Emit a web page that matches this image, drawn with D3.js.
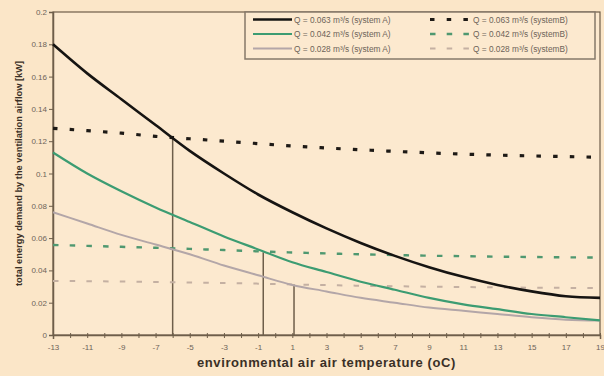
<!DOCTYPE html>
<html lang="en">
<head>
  <meta charset="UTF-8">
  <title>Ventilation energy demand</title>
  <script src="https://cdn.jsdelivr.net/npm/d3@7"></script>
  <style>
    html, body {
      margin: 0;
      padding: 0;
      background: #fbe6c8;
    }
    svg text {
      font-family: "Liberation Sans", Arial, sans-serif;
    }
  </style>
</head>
<body>
  <svg id="chart" width="604" height="376"></svg>
  <script>
    // temperatures (oC) where values were read, every 2 degrees
    const temps = [-13, -11, -9, -7, -5, -3, -1, 1, 3, 5, 7, 9, 11, 13, 15, 17, 19];

    // system A (solid)
    const sysA063 = [0.180, 0.162, 0.146, 0.130, 0.114, 0.100, 0.087, 0.076, 0.066, 0.057, 0.049, 0.042, 0.036, 0.031, 0.027, 0.024, 0.023];
    const sysA042 = [0.113, 0.100, 0.089, 0.079, 0.070, 0.061, 0.053, 0.045, 0.039, 0.033, 0.028, 0.023, 0.019, 0.016, 0.013, 0.011, 0.009];
    const sysA028 = [0.076, 0.069, 0.062, 0.056, 0.050, 0.043, 0.037, 0.031, 0.027, 0.023, 0.020, 0.017, 0.015, 0.013, 0.011, 0.0095, 0.009];

    // system B (dashed)
    const sysB063 = [0.128, 0.1265, 0.125, 0.123, 0.1215, 0.120, 0.1185, 0.117, 0.1158, 0.1147, 0.1137, 0.1128, 0.112, 0.1114, 0.1109, 0.1105, 0.110];
    const sysB042 = [0.0557, 0.0552, 0.0546, 0.0540, 0.0533, 0.0526, 0.0518, 0.0511, 0.0505, 0.0500, 0.0495, 0.0491, 0.0488, 0.0485, 0.0483, 0.0481, 0.048];
    const sysB028 = [0.0335, 0.0333, 0.0331, 0.0328, 0.0325, 0.0322, 0.0318, 0.0313, 0.0309, 0.0305, 0.0302, 0.0299, 0.0297, 0.0295, 0.0293, 0.0292, 0.029];

    // break-even points marked with vertical drop lines
    const dropTemps = [-6, -0.7, 1.1];
    const dropValues = [0.1215, 0.0512, 0.0312];

    const yTicks = [0, 0.02, 0.04, 0.06, 0.08, 0.1, 0.12, 0.14, 0.16, 0.18, 0.2];
    const xTickLabels = [-13, -11, -9, -7, -5, -3, -1, 1, 3, 5, 7, 9, 11, 13, 15, 17, 19];

    const seriesNames = [
      'Q = 0.063 m³/s (system A)', 'Q = 0.042 m³/s (system A)', 'Q = 0.028 m³/s (system A)',
      'Q = 0.063 m³/s (systemB)', 'Q = 0.042 m³/s (systemB)', 'Q = 0.028 m³/s (systemB)'
    ];

    const series = [
      {name: seriesNames[0], values: sysA063, color: '#161412', width: 2.6, dash: null},
      {name: seriesNames[1], values: sysA042, color: '#3c9c72', width: 2.2, dash: null},
      {name: seriesNames[2], values: sysA028, color: '#b3a6a8', width: 2, dash: null},
      {name: seriesNames[3], values: sysB063, color: '#1e1a16', width: 3.2, dash: '4.5,12.2'},
      {name: seriesNames[4], values: sysB042, color: '#4f9870', width: 2.4, dash: '5.5,11.2'},
      {name: seriesNames[5], values: sysB028, color: '#c4b0a2', width: 2, dash: '5.5,11.2'}
    ];

    const axisColor = '#6e5e4a';
    const labelColor = '#6d6358';

    const svg = d3.select('#chart');
    const plotL = 53, plotR = 600, plotT = 12, plotB = 335;

    const x = d3.scaleLinear().domain([-13, 19]).range([plotL, plotR]);
    const y = d3.scaleLinear().domain([0, 0.2]).range([plotB, plotT]);

    // plot area
    svg.append('rect')
      .attr('x', plotL).attr('y', plotT)
      .attr('width', plotR - plotL).attr('height', plotB - plotT)
      .attr('fill', '#fce9cf')
      .attr('stroke', axisColor)
      .attr('stroke-width', 1.2);

    // x axis: minor ticks every degree, labels every 2
    const xAxis = d3.axisBottom(x)
      .tickValues(d3.range(-13, 20, 1))
      .tickSize(4)
      .tickFormat(d => xTickLabels.includes(d) ? d : '');
    const gx = svg.append('g')
      .attr('transform', `translate(0,${plotB})`)
      .call(xAxis);
    gx.select('.domain').attr('stroke', axisColor).attr('stroke-width', 1.5);
    gx.selectAll('.tick line').attr('stroke', axisColor).attr('y1', -2).attr('y2', 3);
    gx.selectAll('.tick text')
      .attr('fill', labelColor)
      .attr('font-size', 8)
      .attr('y', 9);

    // y axis
    const yAxis = d3.axisLeft(y)
      .tickValues(yTicks)
      .tickSize(4)
      .tickFormat(d => d === 0 ? '0' : String(+d.toFixed(2)));
    const gy = svg.append('g')
      .attr('transform', `translate(${plotL},0)`)
      .call(yAxis);
    gy.select('.domain').attr('stroke', axisColor).attr('stroke-width', 1.5);
    gy.selectAll('.tick line').attr('stroke', axisColor);
    gy.selectAll('.tick text')
      .attr('fill', labelColor)
      .attr('font-size', 8)
      .attr('x', -6);

    // vertical drop lines
    svg.append('g').selectAll('line')
      .data(dropTemps)
      .join('line')
      .attr('x1', d => x(d)).attr('x2', d => x(d))
      .attr('y1', y(0))
      .attr('y2', (d, i) => y(dropValues[i]))
      .attr('stroke', axisColor)
      .attr('stroke-width', 1.5);

    const line = d3.line()
      .x((d, i) => x(temps[i]))
      .y(d => y(d))
      .curve(d3.curveMonotoneX);

    // dashed first so the solid curves sit on top
    const order = [5, 4, 3, 2, 1, 0];
    svg.append('g').selectAll('path')
      .data(order.map(i => series[i]))
      .join('path')
      .attr('d', d => line(d.values))
      .attr('fill', 'none')
      .attr('stroke', d => d.color)
      .attr('stroke-width', d => d.width)
      .attr('stroke-dasharray', d => d.dash);

    // legend
    const lg = svg.append('g');
    lg.append('rect')
      .attr('x', 245).attr('y', 12)
      .attr('width', 350).attr('height', 47)
      .attr('fill', '#fce9cf')
      .attr('stroke', '#85786a')
      .attr('stroke-width', 1.5);

    const rowY = [19.5, 34, 48.5];
    series.forEach((s, i) => {
      const col = i < 3 ? 0 : 1;
      const ry = rowY[i % 3];
      const x0 = col === 0 ? 253 : 430;
      const x1 = col === 0 ? 292 : 470;
      lg.append('line')
        .attr('x1', x0).attr('x2', x1)
        .attr('y1', ry).attr('y2', ry)
        .attr('stroke', s.color)
        .attr('stroke-width', s.width)
        .attr('stroke-dasharray', s.dash);
      lg.append('text')
        .attr('x', col === 0 ? 294 : 473)
        .attr('y', ry + 3)
        .attr('font-size', 8.3)
        .attr('fill', labelColor)
        .text(s.name);
    });

    // axis titles
    svg.append('text')
      .attr('x', (plotL + plotR) / 2)
      .attr('y', 367)
      .attr('text-anchor', 'middle')
      .attr('font-size', 13)
      .attr('letter-spacing', 0.6)
      .attr('font-weight', 'bold')
      .attr('fill', '#3a3026')
      .text('environmental air air temperature (oC)');

    svg.append('text')
      .attr('transform', `translate(22,${(plotT + plotB) / 2}) rotate(-90)`)
      .attr('text-anchor', 'middle')
      .attr('font-size', 9.3)
      .attr('font-weight', 'bold')
      .attr('fill', '#3a3026')
      .text('total energy demand by the ventilation airflow [kW]');
  </script>
</body>
</html>
